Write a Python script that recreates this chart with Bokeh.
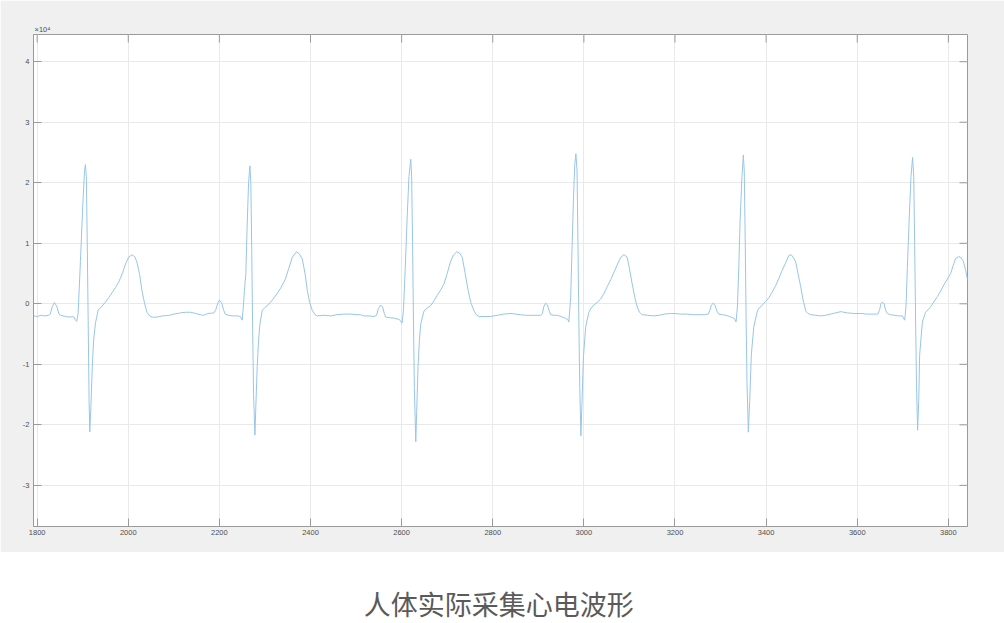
from bokeh.plotting import figure
from bokeh.models import Range1d, FixedTicker, Label, ColumnDataSource
from bokeh.layouts import column
from bokeh.embed import file_html
from bokeh.resources import INLINE

# ECG samples: sample index and value (x 10^4)
beat1_t = [1792,1800,1808,1816,1825,1829,1833,1838,1843,1848,1852,1862,1872,1878,1881,1884,1887,1890,1895,1900,1904,1906,1908,1910,1912,1914,1915.5,1918,1921,1924,1928,1934,1940,1950,1957,1965,1972,1979,1987,1994,2001,2008,2014,2019,2025,2030,2036,2041,2047,2053,2063,2075,2090,2100,2115,2125,2137,2148,2158]
beat1_v = [-0.20,-0.21,-0.19,-0.20,-0.19,-0.17,-0.05,0.02,-0.04,-0.17,-0.19,-0.21,-0.22,-0.21,-0.22,-0.27,-0.29,-0.15,0.7,1.6,2.2,2.30,2.1,1.0,-0.3,-1.6,-2.12,-1.7,-1.04,-0.6,-0.32,-0.10,-0.06,0.03,0.10,0.19,0.27,0.36,0.50,0.66,0.77,0.81,0.78,0.69,0.48,0.22,0.0,-0.14,-0.20,-0.22,-0.22,-0.20,-0.19,-0.17,-0.15,-0.14,-0.14,-0.16,-0.18]

beat2_t = [2165,2175,2188,2192,2196,2200,2205,2209,2213,2220,2230,2240,2246,2250,2252,2255,2258,2261,2264,2267,2269,2271,2273,2275,2278,2280,2283,2286,2289,2294,2300,2308,2318,2327,2336,2345,2352,2360,2369,2375,2382,2388,2393,2398,2404,2410,2415,2430,2444,2458,2473,2488,2500,2510]
beat2_v = [-0.19,-0.16,-0.15,-0.10,0.0,0.06,0.02,-0.10,-0.17,-0.19,-0.20,-0.20,-0.21,-0.27,-0.10,0.22,0.5,1.3,2.0,2.28,2.0,0.9,-0.4,-1.5,-2.17,-1.7,-1.04,-0.6,-0.33,-0.11,-0.06,-0.01,0.08,0.17,0.28,0.41,0.58,0.77,0.86,0.83,0.74,0.50,0.22,0.02,-0.11,-0.18,-0.20,-0.19,-0.20,-0.18,-0.17,-0.17,-0.18,-0.18]

beat3_t = [2517,2528,2539,2545,2549,2554,2558,2562,2565,2575,2585,2595,2601,2604,2608,2612,2616,2620,2622,2624,2626,2628,2631,2633,2636,2639,2642,2649,2656,2664,2671,2678,2685,2693,2700,2707,2714,2721,2727,2733,2739,2746,2752,2759,2765,2770,2783,2795,2810,2824,2840,2850]
beat3_v = [-0.20,-0.20,-0.21,-0.19,-0.08,-0.02,-0.05,-0.16,-0.22,-0.23,-0.24,-0.26,-0.32,-0.10,0.6,1.4,2.1,2.39,2.1,1.0,-0.3,-1.4,-2.28,-1.8,-1.04,-0.6,-0.33,-0.12,-0.07,-0.03,0.05,0.14,0.22,0.33,0.50,0.69,0.81,0.86,0.84,0.77,0.52,0.22,0.02,-0.12,-0.19,-0.21,-0.21,-0.21,-0.19,-0.17,-0.16,-0.17]

beat4_t = [2861,2872,2883,2895,2905,2909,2912,2916,2920,2924,2927,2935,2942,2950,2960,2965,2967,2969,2971,2974,2977,2980,2982.5,2985,2987,2989,2991,2993.5,2996,2999,3004,3011,3016,3022,3030,3037,3044,3051,3059,3066,3073,3081,3088,3095,3100,3106,3112,3117,3122,3128,3140,3154,3165,3176,3190]
beat4_v = [-0.18,-0.19,-0.19,-0.19,-0.19,-0.16,-0.05,0.01,-0.02,-0.12,-0.18,-0.19,-0.19,-0.21,-0.24,-0.26,-0.30,-0.10,0.11,0.9,1.7,2.3,2.48,2.2,1.0,-0.3,-1.4,-2.18,-1.6,-0.88,-0.38,-0.14,-0.07,-0.02,0.03,0.08,0.17,0.28,0.40,0.52,0.64,0.77,0.81,0.77,0.58,0.33,0.10,-0.05,-0.14,-0.18,-0.19,-0.20,-0.19,-0.17,-0.16]

beat5_t = [3200,3212,3225,3241,3255,3267,3273,3277,3280,3284,3288,3292,3296,3304,3312,3320,3326,3330,3334,3337,3340,3343,3347,3350,3352,3354,3356,3358,3361,3364,3367.5,3373,3381,3386,3392,3399,3406,3413,3421,3428,3435,3443,3450,3455,3460,3465,3470,3476,3481,3487,3492,3498,3509,3520,3530,3542]
beat5_v = [-0.16,-0.17,-0.17,-0.18,-0.18,-0.18,-0.17,-0.10,-0.02,0.01,-0.03,-0.12,-0.17,-0.18,-0.19,-0.21,-0.23,-0.24,-0.30,-0.05,0.6,1.4,2.1,2.46,2.2,1.1,-0.2,-1.3,-2.12,-1.6,-0.84,-0.38,-0.11,-0.06,-0.02,0.04,0.10,0.19,0.30,0.42,0.55,0.68,0.80,0.81,0.76,0.69,0.50,0.28,0.07,-0.12,-0.16,-0.18,-0.19,-0.20,-0.19,-0.17]

beat6_t = [3552,3564,3578,3593,3610,3620,3630,3645,3649,3652,3655,3659,3662,3666,3673,3681,3690,3699,3704,3707,3710,3714,3718,3721.5,3724,3726,3728,3730,3732.5,3735,3737,3743,3750,3755,3761,3768,3776,3783,3790,3797,3805,3810,3816,3823,3828,3833,3838,3842]
beat6_v = [-0.15,-0.13,-0.15,-0.16,-0.16,-0.17,-0.17,-0.17,-0.10,0.0,0.03,0.0,-0.10,-0.16,-0.18,-0.19,-0.20,-0.20,-0.27,-0.05,0.6,1.4,2.1,2.42,2.1,1.0,-0.2,-1.3,-2.09,-1.6,-0.84,-0.30,-0.14,-0.10,-0.05,0.03,0.12,0.21,0.31,0.40,0.50,0.62,0.75,0.78,0.76,0.70,0.55,0.40]

value_scale = 1e4
x_ticks = [1800, 2000, 2200, 2400, 2600, 2800, 3000, 3200, 3400, 3600, 3800]
y_ticks = [-30000, -20000, -10000, 0, 10000, 20000, 30000, 40000]
y_tick_labels = ["-3", "-2", "-1", "0", "1", "2", "3", "4"]
exponent_label = "×10⁴"
caption = "人体实际采集心电波形"

t = beat1_t + beat2_t + beat3_t + beat4_t + beat5_t + beat6_t
v = [x * value_scale for x in beat1_v + beat2_v + beat3_v + beat4_v + beat5_v + beat6_v]
src = ColumnDataSource(dict(t=t, v=v))

GRAY = "#f0f0f0"
AX = "#9a9a9a"
LBL = "#4d4d4d"

X0, X1 = 1792, 3842
Y0, Y1 = -36800, 44500
FW, FH = 934, 492
TICK = 8

p = figure(width=1004, height=552, x_range=Range1d(X0, X1), y_range=Range1d(Y0, Y1),
           output_backend="svg", toolbar_location=None,
           min_border_left=33, min_border_right=37, min_border_top=34, min_border_bottom=26,
           border_fill_color=GRAY, background_fill_color="white",
           outline_line_color=AX, outline_line_width=1)
p.title.text = exponent_label
p.title.align = "left"
p.title.text_font = "Liberation Sans"
p.title.text_font_size = "7.5px"
p.title.text_font_style = "normal"
p.title.text_color = LBL
p.title.standoff = 1
p.title.offset = 1

p.line("t", "v", source=src, line_color="#97c6e8", line_width=1.0)

p.xaxis.ticker = FixedTicker(ticks=x_ticks)
p.yaxis.ticker = FixedTicker(ticks=y_ticks)
p.yaxis.major_label_overrides = {k: s for k, s in zip(y_ticks, y_tick_labels)}

for ax in [p.xaxis[0], p.yaxis[0]]:
    ax.axis_line_color = AX
    ax.major_tick_line_color = AX
    ax.major_tick_in = TICK
    ax.major_tick_out = 0
    ax.minor_tick_line_color = None
    ax.major_label_text_color = LBL
    ax.major_label_text_font = "Liberation Sans"
    ax.major_label_text_font_size = "7.5px"
p.xaxis.major_label_standoff = 3
p.yaxis.major_label_standoff = 4

# inward tick marks on the top and right edges of the box
dy = TICK * (Y1 - Y0) / FH
dx = TICK * (X1 - X0) / FW
p.segment(x0=x_ticks, y0=[Y1] * len(x_ticks), x1=x_ticks, y1=[Y1 - dy] * len(x_ticks),
          line_color=AX, line_width=1)
p.segment(x0=[X1] * len(y_ticks), y0=y_ticks, x1=[X1 - dx] * len(y_ticks), y1=y_ticks,
          line_color=AX, line_width=1)

p.xgrid.grid_line_color = "#e9e9e9"
p.ygrid.grid_line_color = "#e9e9e9"
p.xgrid.ticker = FixedTicker(ticks=x_ticks)
p.ygrid.ticker = FixedTicker(ticks=y_ticks)

p2 = figure(width=1004, height=71, x_range=Range1d(0, 1004), y_range=Range1d(0, 71),
            output_backend="svg", toolbar_location=None,
            x_axis_location=None, y_axis_location=None,
            min_border=0, border_fill_color="white", background_fill_color="white",
            outline_line_color=None)
p2.grid.grid_line_color = None
p2.add_layout(Label(x=500, y=20, text=caption, text_align="center", text_baseline="middle",
                    text_font="Noto Sans CJK SC", text_font_size="27px", text_color="#5a5a5a"))

layout = column(p, p2, spacing=0)
open("out.html", "w").write(file_html(layout, INLINE))
